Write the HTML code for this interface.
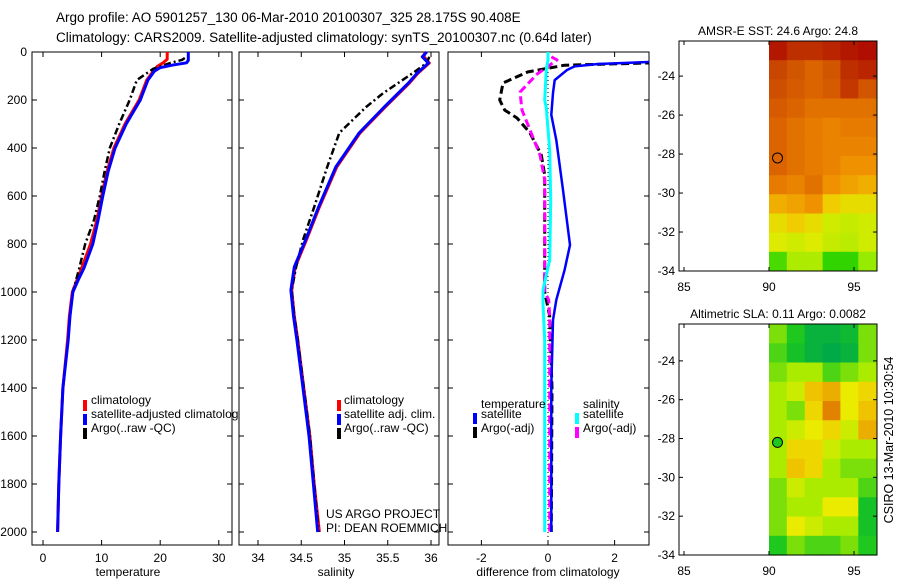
<!DOCTYPE html>
<html><head><meta charset="utf-8">
<style>
html,body{margin:0;padding:0;background:#fff;}
svg{display:block;font-family:"Liberation Sans",sans-serif;}
</style></head>
<body>
<svg id="chart" width="900" height="580" viewBox="0 0 900 580" xmlns="http://www.w3.org/2000/svg">
<text x="56" y="22" font-size="13.5">Argo profile: AO 5901257_130 06-Mar-2010 20100307_325 28.175S 90.408E</text>
<text x="56" y="42" font-size="13.5">Climatology: CARS2009. Satellite-adjusted climatology: synTS_20100307.nc (0.64d later)</text>
<g id="g"></g>
<text transform="translate(893,440) rotate(-90)" text-anchor="middle" font-size="12.5">CSIRO 13-Mar-2010 10:30:54</text>
</svg>
<script>
// ---- data ----
const tClimDepth=[0,30,45,60,80,117,200,300,400,500,600,700,800,900,950,1000,1100,1200,1400,1600,1800,2000];
const tClim=[21.2,21.2,20.5,19.5,18.8,17.7,16.4,14.0,12.1,10.9,10.0,9.2,8.1,6.6,5.8,5.0,4.5,4.2,3.4,3.0,2.7,2.5];
const tSatDepth=[0,35,45,55,65,80,117,200,300,400,500,600,700,800,900,950,1000,1100,1200,1400,1600,1800,2000];
const tSat=[24.8,24.8,24.5,22,20,19,17.9,16.6,14.2,12.3,11.1,10.2,9.4,8.5,7.0,6.0,5.1,4.6,4.3,3.4,3.0,2.7,2.5];
const tArgoDepth=[25,33,46,70,117,200,300,400,500,600,700,800,900,1000,1100,1200,1400,1600,1800,2000];
const tArgo=[24.2,23.7,21.7,18.8,16.0,14.8,13.0,11.4,10.5,9.7,8.7,7.2,6.2,5.1,4.6,4.3,3.4,3.0,2.7,2.5];

const sClimDepth=[0,20,46,88,129,229,337,479,646,783,896,992,1100,1200,1400,1600,1800,2000];
const sClim=[35.93,35.92,35.98,35.85,35.75,35.47,35.18,34.91,34.71,34.56,34.43,34.39,34.42,34.46,34.53,34.6,34.65,34.71];
const sSat=[35.95,35.9,35.97,35.84,35.74,35.46,35.17,34.9,34.7,34.55,34.42,34.38,34.41,34.45,34.52,34.59,34.64,34.69];
const sArgoDepth=[20,46,88,171,229,337,479,646,783,896,992,1100,1200,1400,1600,1800,2000];
const sArgo=[35.98,35.95,35.79,35.45,35.25,34.94,34.8,34.65,34.52,34.44,34.39,34.42,34.46,34.53,34.6,34.65,34.7];

const dTSatDepth=[0,40,50,60,75,117,171,262,367,575,804,908,1033,1117,1400,2000];
const dTSat=[3.5,3.3,1.5,0.8,0.57,0.2,0.15,0.1,0.25,0.45,0.66,0.5,0.25,0.15,0.1,0.1];
const dTArgoDepth=[30,45,55,83,129,200,242,275,337,429,512,1000,1100,1400,2000];
const dTArgo=[3.5,3.2,0.5,-0.6,-1.35,-1.45,-1.3,-0.93,-0.54,-0.2,-0.1,-0.1,0.05,0.12,0.1];
const dSSatDepth=[0,33,75,200,233,408,617,867,992,1050,1200,2000];
const dSSat=[0.0,0.0,-0.05,-0.1,-0.05,0.05,0.08,0.05,-0.15,-0.15,-0.1,-0.1];
const dSArgoDepth=[20,33,92,167,242,325,429,533,1000,1033,1100,2000];
const dSArgo=[0.1,0.27,-0.33,-0.84,-0.78,-0.54,-0.24,-0.1,-0.1,0.02,0.05,0.05];

const sstGrid=[
[0.95,0.9,0.9,0.92,0.95,0.97],
[0.85,0.8,0.75,0.8,0.9,0.92],
[0.82,0.78,0.75,0.78,0.88,0.8],
[0.78,0.75,0.72,0.72,0.72,0.72],
[0.75,0.72,0.7,0.68,0.7,0.7],
[0.75,0.72,0.7,0.68,0.68,0.68],
[0.75,0.72,0.7,0.68,0.65,0.65],
[0.7,0.68,0.72,0.65,0.62,0.6],
[0.6,0.62,0.65,0.55,0.5,0.5],
[0.5,0.55,0.5,0.42,0.4,0.42],
[0.45,0.42,0.45,0.4,0.38,0.42],
[0.15,0.35,0.35,0.1,0.1,0.3]];
const slaGrid=[
[0.3,0.2,0.05,0.05,0.1,0.3],
[0.25,0.15,0.05,0.0,0.05,0.3],
[0.3,0.35,0.35,0.25,0.3,0.35],
[0.35,0.4,0.55,0.6,0.45,0.5],
[0.35,0.3,0.5,0.7,0.45,0.55],
[0.35,0.4,0.45,0.5,0.4,0.6],
[0.35,0.5,0.5,0.4,0.35,0.35],
[0.35,0.55,0.5,0.35,0.3,0.3],
[0.3,0.4,0.35,0.35,0.35,0.25],
[0.3,0.35,0.35,0.45,0.45,0.15],
[0.3,0.45,0.4,0.35,0.35,0.15],
[0.2,0.3,0.25,0.25,0.3,0.2]];
const gridLon0=90, gridLon1=96.3;
const argoLon=90.5, argoLat=-28.2;

// ---- helpers ----
const NS="http://www.w3.org/2000/svg", G=document.getElementById('g');
function mk(tag,at,parent){const e=document.createElementNS(NS,tag);for(const k in at)e.setAttribute(k,at[k]);(parent||G).appendChild(e);return e;}
const yD=d=>52+d*0.24;
function panel(x0,x1,top,bot,name){
  const r=mk('rect',{x:x0,y:top,width:x1-x0,height:bot-top,fill:'none',stroke:'#000','stroke-width':1});
  
  
}
function line(xs,ds,xf,color,w,dash,name,clip){
  const p=xs.map((v,i)=>xf(v).toFixed(1)+','+yD(ds[i]).toFixed(1)).join(' ');
  const at={points:p,fill:'none',stroke:color,'stroke-width':w,'stroke-linejoin':'round'};
  if(dash)at['stroke-dasharray']=dash;
  if(clip)at['clip-path']='url(#'+clip+')';
  const e=mk('polyline',at);
  
  
}
function txt(x,y,s,name,anchor,size){
  const e=mk('text',{x:x,y:y,'font-size':size||12,'text-anchor':anchor||'start'});e.textContent=s;
  
  
  return e;
}
function xTicks(vals,xf,top,bot,fmt,pre){
  vals.forEach(v=>{const x=xf(v);
    mk('line',{x1:x,x2:x,y1:top,y2:top+5,stroke:'#000'});
    mk('line',{x1:x,x2:x,y1:bot,y2:bot-5,stroke:'#000'});
    txt(x,bot+17,fmt(v),pre+'-tick-label','middle');});
}
function legendBar(x,y,c,name){const e=mk('rect',{x:x,y:y-10,width:4,height:11,fill:c});
  
  }

const depthTicks=[0,200,400,600,800,1000,1200,1400,1600,1800,2000];
const TOP=52,BOT=545;
// clip for panel 3
const defs=mk('defs',{});const cp=mk('clipPath',{id:'c3'},defs);mk('rect',{x:448,y:52,width:201,height:493},cp);

// Panel 1 temperature
const xT=v=>43+v*5.86;
panel(32,232,TOP,BOT,'temperature-axes');
depthTicks.forEach(d=>{mk('line',{x1:32,x2:37,y1:yD(d),y2:yD(d),stroke:'#000'});mk('line',{x1:232,x2:227,y1:yD(d),y2:yD(d),stroke:'#000'});
  txt(27,yD(d)+4,String(d),'depth-tick-label','end');});
xTicks([0,10,20,30],xT,TOP,BOT,v=>String(v),'temperature');
txt(128,576,'temperature','temperature-axis-title','middle');
line(tClim,tClimDepth,xT,'#ff0000',3,null,'temperature-climatology-line');
line(tArgo,tArgoDepth,xT,'#000',2.5,'7,3,2,3','temperature-argo-line');
line(tSat,tSatDepth,xT,'#0000ff',3,null,'temperature-satellite-line');
legendBar(83,410,'#ff0000','legend-climatology-marker');txt(91,404,'climatology','legend-climatology');
legendBar(83,424,'#0000ff','legend-satellite-marker');txt(91,418,'satellite-adjusted climatolog','legend-satellite');
legendBar(83,438,'#000','legend-argo-marker');txt(91,432,'Argo(..raw -QC)','legend-argo');

// Panel 2 salinity
const xS=v=>258+(v-34)*86.5;
panel(239,439,TOP,BOT,'salinity-axes');
depthTicks.forEach(d=>{mk('line',{x1:239,x2:244,y1:yD(d),y2:yD(d),stroke:'#000'});mk('line',{x1:439,x2:434,y1:yD(d),y2:yD(d),stroke:'#000'});});
xTicks([34,34.5,35,35.5,36],xS,TOP,BOT,v=>String(v),'salinity');
txt(336,576,'salinity','salinity-axis-title','middle');
line(sClim,sClimDepth,xS,'#ff0000',3,null,'salinity-climatology-line');
line(sArgo,sArgoDepth,xS,'#000',2.5,'7,3,2,3','salinity-argo-line');
line(sSat,sClimDepth,xS,'#0000ff',3,null,'salinity-satellite-line');
legendBar(337,410,'#ff0000','legend-s-climatology-marker');txt(344,404,'climatology','legend-s-climatology');
legendBar(337,424,'#0000ff','legend-s-satellite-marker');txt(344,418,'satellite adj. clim.','legend-s-satellite');
legendBar(337,438,'#000','legend-s-argo-marker');txt(344,432,'Argo(..raw -QC)','legend-s-argo');
txt(326,518,'US ARGO PROJECT','project-credit');
txt(326,532,'PI: DEAN ROEMMICH','pi-credit');

// Panel 3 differences
const xDf=v=>548+v*33.3;
panel(448,649,TOP,BOT,'difference-axes');
depthTicks.forEach(d=>{mk('line',{x1:448,x2:453,y1:yD(d),y2:yD(d),stroke:'#000'});mk('line',{x1:649,x2:644,y1:yD(d),y2:yD(d),stroke:'#000'});});
xTicks([-2,0,2],xDf,TOP,BOT,v=>String(v),'difference');
txt(548,576,'difference from climatology','difference-axis-title','middle');
mk('line',{x1:548,x2:548,y1:TOP,y2:BOT,stroke:'#000','stroke-width':1,'stroke-dasharray':'1,3'});
line(dTArgo,dTArgoDepth,xDf,'#000',3,'8,4','temp-argo-diff-line','c3');
line(dSArgo,dSArgoDepth,xDf,'#ff00ff',3,'8,4','sal-argo-diff-line','c3');
line(dSSat,dSSatDepth,xDf,'#00ffff',3,null,'sal-satellite-diff-line','c3');
line(dTSat,dTSatDepth,xDf,'#0000ff',2.5,null,'temp-satellite-diff-line','c3');
txt(481,408,'temperature','legend-temperature-heading');
legendBar(473,423,'#0000ff','legend-t-sat-marker');txt(481,418,'satellite','legend-t-sat');
legendBar(473,437,'#000','legend-t-argo-marker');txt(481,432,'Argo(-adj)','legend-t-argo');
txt(583,408,'salinity','legend-salinity-heading');
legendBar(575,423,'#00ffff','legend-s-sat-marker');txt(583,418,'satellite','legend-s-sat');
legendBar(575,437,'#ff00ff','legend-s-argo-marker');txt(583,432,'Argo(-adj)','legend-s-argo-d');

// Maps
function cmapSST(v){const s=[[0,[0,200,0]],[0.3,[150,235,0]],[0.45,[220,235,0]],[0.55,[240,205,0]],[0.65,[240,145,0]],[0.75,[220,100,0]],[0.85,[200,70,0]],[1,[170,0,0]]];return interp(s,v);}
function cmapSLA(v){const s=[[0,[0,170,70]],[0.2,[30,200,30]],[0.35,[170,235,0]],[0.45,[235,235,0]],[0.55,[240,195,0]],[0.7,[225,130,0]]];return interp(s,v);}
function interp(s,v){for(let i=1;i<s.length;i++){if(v<=s[i][0]||i==s.length-1){const a=s[i-1],b=s[i];const t=Math.max(0,Math.min(1,(v-a[0])/(b[0]-a[0])));const c=a[1].map((x,k)=>Math.round(x+(b[1][k]-x)*t));return 'rgb('+c.join(',')+')';}}}
function map(grid,cm,top,bot,latTop,title,pre,circFill){
  const x0=679,x1=877,lonF=v=>769+(v-90)*17,latF=v=>top+(latTop-v)*((bot-top)/(latTop+34));
  const rows=grid.length,cols=grid[0].length,dLat=(latTop+34)/rows,dLon=(gridLon1-gridLon0)/cols;
  grid.forEach((row,i)=>row.forEach((v,j)=>{
    const xa=lonF(gridLon0+j*dLon),xb=lonF(gridLon0+(j+1)*dLon),ya=latF(latTop-i*dLat),yb=latF(latTop-(i+1)*dLat);
    const e=mk('rect',{x:xa.toFixed(1),y:ya.toFixed(1),width:(xb-xa+0.5).toFixed(1),height:(yb-ya+0.5).toFixed(1),fill:cm(v)});
    
    
  }));
  panel(x0,x1,top,bot,pre+'-axes');
  [-24,-26,-28,-30,-32,-34].forEach(l=>{const y=latF(l);mk('line',{x1:x0,x2:x0+4,y1:y,y2:y,stroke:'#000'});mk('line',{x1:x1,x2:x1-4,y1:y,y2:y,stroke:'#000'});txt(x0-4,y+4,String(l),pre+'-lat-label','end');});
  [85,90,95].forEach(l=>{const x=lonF(l);mk('line',{x1:x,x2:x,y1:bot,y2:bot-4,stroke:'#000'});mk('line',{x1:x,x2:x,y1:top,y2:top+4,stroke:'#000'});txt(x,bot+20,String(l),pre+'-lon-label','middle');});
  txt(778,top-6,title,pre+'-title','middle');
  const c=mk('circle',{cx:lonF(argoLon),cy:latF(argoLat),r:5,fill:circFill,stroke:'#000'});
  
  
}
map(sstGrid,cmapSST,41,271,-22.2,'AMSR-E SST: 24.6 Argo: 24.8','sst-map','rgb(220,100,0)');
map(slaGrid,cmapSLA,324,555,-22.1,'Altimetric SLA: 0.11 Argo: 0.0082','sla-map','rgb(30,200,30)');
</script>
</body></html>
